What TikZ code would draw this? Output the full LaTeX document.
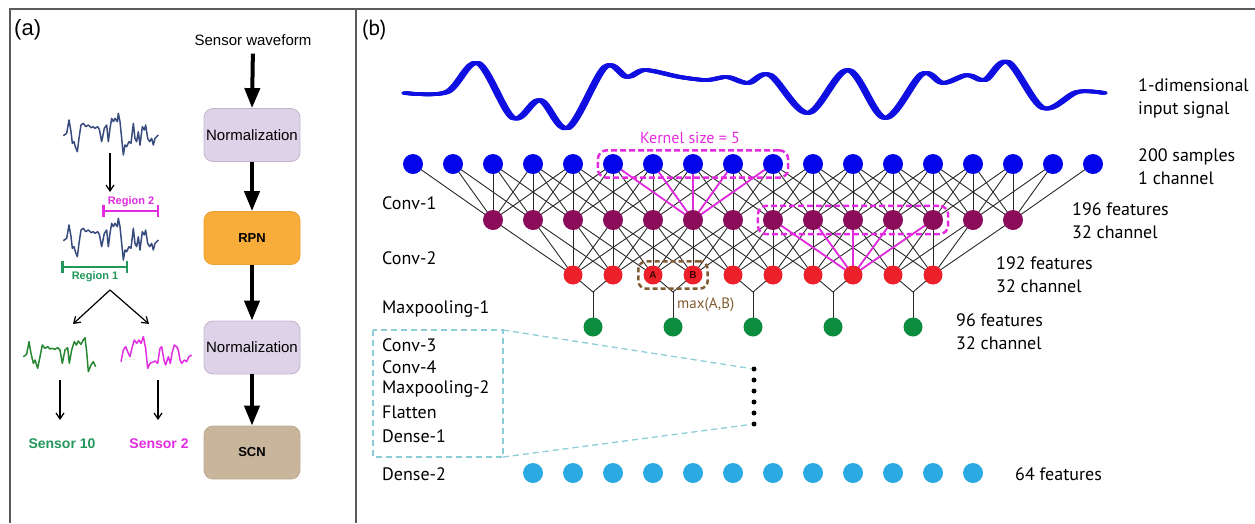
\documentclass[tikz,border=0pt]{standalone}
\usepackage{fontspec}
\setmainfont{Liberation Sans}
\newfontfamily\myr{PT Sans}
\usetikzlibrary{arrows.meta,fit}
\definecolor{framec}{RGB}{90,90,90}
\definecolor{wavea}{RGB}{55,75,125}
\definecolor{greena}{RGB}{40,135,50}
\definecolor{greent}{RGB}{35,150,90}
\definecolor{maga}{RGB}{225,45,225}
\definecolor{normfill}{RGB}{222,210,232}
\definecolor{normdraw}{RGB}{195,180,208}
\definecolor{rpnfill}{RGB}{248,172,58}
\definecolor{rpndraw}{RGB}{238,160,50}
\definecolor{scnfill}{RGB}{200,181,156}
\definecolor{scndraw}{RGB}{188,170,145}
\definecolor{nblue}{RGB}{5,5,235}
\definecolor{wblue}{RGB}{15,15,225}
\definecolor{npurple}{RGB}{140,12,92}
\definecolor{nred}{RGB}{235,32,42}
\definecolor{ngreen}{RGB}{12,140,62}
\definecolor{ndense}{RGB}{42,170,226}
\definecolor{kmag}{RGB}{228,42,222}
\definecolor{kbrown}{RGB}{128,92,50}
\definecolor{teal}{RGB}{140,205,215}
\definecolor{linegray}{RGB}{40,40,40}
\pgfdeclarelayer{bg}
\pgfsetlayers{bg,main}
\begin{document}
\begin{tikzpicture}[x=1pt,y=-1pt,
  fbox/.style={rounded corners=9pt, minimum width=96pt, minimum height=53pt, inner sep=0pt, line width=0.8pt},
  bigarrow/.style={line width=4pt, -{Triangle[length=20pt,width=15pt]}},
  smallarrow/.style={line width=1.2pt, -{Straight Barb[length=6pt,width=8pt]}},
  wavestyle/.style={line width=1.5pt, line join=round},
  conn/.style={draw=linegray, line width=0.9pt},
  kconn/.style={draw=kmag, line width=1.8pt},
  bn/.style={circle, fill=nblue, minimum size=20pt, inner sep=0pt},
  pn/.style={circle, fill=npurple, minimum size=20pt, inner sep=0pt},
  rn/.style={circle, fill=nred, minimum size=19pt, inner sep=0pt},
  gn/.style={circle, fill=ngreen, minimum size=19pt, inner sep=0pt},
  dn/.style={circle, fill=ndense, minimum size=20pt, inner sep=0pt},
  dotn/.style={circle, fill=black, minimum size=5pt, inner sep=0pt},
  lab/.style={font=\myr\fontsize{18}{23}\selectfont, anchor=west, inner sep=0pt, align=left},
  kbox/.style={draw=kmag, line width=2.5pt, dash pattern=on 6pt off 3pt, rounded corners=9pt},
]
\useasboundingbox (0,0) rectangle (1255,523);
% frame
\draw[framec, line width=1.5pt] (10,523) -- (10,9) -- (1255,9);
\draw[framec, line width=1.5pt] (356,9) -- (356,523);
\node[font=\fontsize{22}{26}\selectfont, anchor=west, inner sep=0pt] (pa) at (14,30) {(a)};
\node[font=\myr\fontsize{22}{26}\selectfont, anchor=west, inner sep=0pt] (pb) at (362,30) {(b)};

% ---------- panel (a) flowchart ----------
\node[font=\fontsize{15}{18}\selectfont, inner sep=0pt] (sw) at (253,40) {Sensor waveform};
\node[fbox, fill=normfill, draw=normdraw, font=\fontsize{15}{18}\selectfont] (n1) at (252,135) {Normalization};
\node[fbox, fill=rpnfill, draw=rpndraw, font=\bfseries\fontsize{13}{16}\selectfont] (rpn) at (252,238) {RPN};
\node[fbox, fill=normfill, draw=normdraw, font=\fontsize{15}{18}\selectfont] (n2) at (252,347.5) {Normalization};
\node[fbox, fill=scnfill, draw=scndraw, font=\bfseries\fontsize{13}{16}\selectfont] (scn) at (252,452.5) {SCN};
\draw[bigarrow, shorten <=8pt] (sw.south) -- (n1.north);
\draw[bigarrow] (n1.south) -- (rpn.north);
\draw[bigarrow] (rpn.south) -- (n2.north);
\draw[bigarrow] (n2.south) -- (scn.north);

% ---------- panel (a) waveforms ----------
\begin{scope}[shift={(55,105)}, x=0.33333pt, y=-0.33333pt]
\draw[wavestyle, wavea] plot coordinates {(25,92) (35,85) (42,45) (48,80) (52,115) (57,110) (62,128) (67,140) (72,100) (78,60) (85,55) (92,65) (100,60) (108,68) (115,65) (120,70) (128,65) (133,73) (140,110) (148,70) (155,60) (160,110) (165,70) (170,40) (175,50) (180,40) (187,50) (190,25) (195,50) (200,100) (205,150) (210,120) (215,125) (222,110) (228,115) (235,55) (240,100) (245,110) (250,80) (255,120) (262,65) (268,75) (272,60) (278,100) (284,110) (290,100) (295,120) (300,100) (310,90)};
\end{scope}
\begin{scope}[shift={(55,210)}, x=0.33333pt, y=-0.33333pt]
\draw[wavestyle, wavea] plot coordinates {(25,92) (35,85) (42,45) (48,80) (52,115) (57,110) (62,128) (67,140) (72,100) (78,60) (85,55) (92,65) (100,60) (108,68) (115,65) (120,70) (128,65) (133,73) (140,110) (148,70) (155,60) (160,110) (165,70) (170,40) (175,50) (180,40) (187,50) (190,25) (195,50) (200,100) (205,150) (210,120) (215,125) (222,110) (228,115) (235,55) (240,100) (245,110) (250,80) (255,120) (262,65) (268,75) (272,60) (278,100) (284,110) (290,100) (295,120) (300,100) (310,90)};
\end{scope}
\begin{scope}[shift={(15,325)}, x=0.33333pt, y=-0.33333pt]
\draw[wavestyle, greena] plot coordinates {(25,95) (35,88) (42,50) (48,85) (55,115) (60,105) (68,130) (75,95) (82,60) (90,70) (98,65) (105,72) (112,70) (120,73) (128,68) (135,75) (142,115) (150,75) (158,68) (163,115) (170,75) (178,50) (184,60) (190,48) (198,58) (205,45) (210,38) (215,80) (220,140) (228,120) (235,110) (242,125)};
\draw[wavestyle, maga] plot coordinates {(318,110) (325,75) (332,65) (338,80) (345,95) (352,65) (358,45) (365,55) (372,45) (378,55) (385,35) (392,70) (398,130) (405,115) (412,112) (420,108) (428,115) (435,70) (440,65) (447,105) (452,120) (460,95) (466,115) (472,80) (478,60) (485,65) (490,75) (495,105) (500,115) (508,105) (515,110) (522,95) (530,90)};
\end{scope}
\coordinate (w1b) at (110,153);
\coordinate (w2t) at (110,192);
\draw[smallarrow] (w1b) -- (w2t);
\coordinate (r2a) at (102,211);
\coordinate (r2b) at (159,211);
\draw[maga, line width=2.5pt, {Bar[width=12pt]}-{Bar[width=12pt]}] (r2a) -- (r2b);
\node[maga, font=\bfseries\fontsize{11}{13}\selectfont, inner sep=0pt] (reg2) at (131,202) {Region 2};
\coordinate (r1a) at (61,267);
\coordinate (r1b) at (128,267);
\draw[greent, line width=2.5pt, {Bar[width=12pt]}-{Bar[width=12pt]}] (r1a) -- (r1b);
\node[greent, font=\bfseries\fontsize{11}{13}\selectfont, inner sep=0pt] (reg1) at (95,277) {Region 1};
\coordinate (split) at (110,290);
\coordinate (gl) at (73,324);
\coordinate (ml) at (149,324);
\draw[smallarrow] (split) -- (gl);
\draw[smallarrow] (split) -- (ml);
\coordinate (ga) at (60,380);
\coordinate (gb) at (60,420);
\coordinate (ma) at (158,380);
\coordinate (mb) at (158,420);
\draw[smallarrow] (ga) -- (gb);
\draw[smallarrow] (ma) -- (mb);
\node[greent, font=\bfseries\fontsize{14}{16}\selectfont, inner sep=0pt] (s10) at (62,444) {Sensor 10};
\node[maga, font=\bfseries\fontsize{14}{16}\selectfont, inner sep=0pt] (s2) at (159,444) {Sensor 2};

% ---------- panel (b) waveform ----------
\foreach \s in {-2,-1,...,2}{
\draw[wblue, line width=3.5pt, line cap=round, line join=round, xshift={\s*1pt}] plot[smooth, tension=0.55] coordinates {(405,93) (447,92) (478,63) (513,118) (540,100) (568,128) (605,67) (627,77) (645,70) (680,77) (707,80) (727,77) (748,83) (770,75) (808,113) (848,70) (885,118) (922,74) (943,83) (967,75) (985,80) (1008,62) (1043,108) (1077,92) (1104,93)};
}

% ---------- panel (b) nodes ----------
\foreach \i in {0,...,17} \node[bn] (b\i) at (413+40*\i,164) {};
\foreach \i in {0,...,13} \node[pn] (p\i) at (493+40*\i,220) {};
\foreach \i in {0,...,9} \node[rn] (r\i) at (573+40*\i,275) {};
\foreach \i in {0,...,4} \node[gn] (g\i) at (593+80*\i,327) {};
\foreach \i in {0,...,11} \node[dn] (d\i) at (533+40*\i,473) {};
\foreach \i in {0,...,5} \node[dotn] (dd\i) at (754,369+11*\i) {};
\node[font=\fontsize{10}{12}\selectfont\bfseries, text=black!75!red, inner sep=0pt] (la) at (r2) {A};
\node[font=\fontsize{10}{12}\selectfont\bfseries, text=black!75!red, inner sep=0pt] (lb) at (r3) {B};

% connections
\begin{pgfonlayer}{bg}
\foreach \i in {0,...,13}{
  \foreach \k in {0,...,4}{
    \pgfmathtruncatemacro\j{\i+\k}
    \draw[conn] (p\i.center) -- (b\j.center);
  }
}
\foreach \i in {0,...,9}{
  \foreach \k in {0,...,4}{
    \pgfmathtruncatemacro\j{\i+\k}
    \draw[conn] (r\i.center) -- (p\j.center);
  }
}
\foreach \k in {0,...,4}{
  \pgfmathtruncatemacro\ra{2*\k}
  \pgfmathtruncatemacro\rb{2*\k+1}
  \coordinate (j\k) at (593+80*\k,292);
  \draw[conn] (r\ra.center) -- (j\k) -- (r\rb.center);
  \draw[conn] (j\k) -- (g\k.center);
}
\foreach \j in {5,...,9} \draw[kconn] (p5.center) -- (b\j.center);
\foreach \j in {7,...,11} \draw[kconn] (r7.center) -- (p\j.center);
\end{pgfonlayer}

% dashed boxes
\node[kbox, fit=(b5)(b9), inner xsep=5pt, inner ysep=3.5pt] (kb1) {};
\node[text=kmag, font=\myr\fontsize{16}{19}\selectfont, inner sep=0pt] (ks) at (690,138) {Kernel size = 5};
\node[kbox, fit=(p7)(p11), inner xsep=5pt, inner ysep=4pt] (kb2) {};
\node[draw=kbrown, line width=2.5pt, dash pattern=on 5pt off 3pt, rounded corners=8pt, fit=(r2)(r3), inner xsep=5pt, inner ysep=4pt] (abbox) {};
\node[text=kbrown, font=\myr\fontsize{15}{18}\selectfont, anchor=west, inner sep=0pt] (mx) at (677,305) {max(A,B)};

% teal dashed box
\draw[teal, line width=1.3pt, dash pattern=on 6pt off 4pt] (373,330) rectangle (503,457);
\coordinate (tbtr) at (503,330);
\coordinate (tbbr) at (503,457);
\draw[teal, line width=1.3pt, dash pattern=on 6pt off 4pt] (tbtr) -- (dd0);
\draw[teal, line width=1.3pt, dash pattern=on 6pt off 4pt] (tbbr) -- (dd5);

% labels
\node[lab] (lc1) at (382,203) {Conv-1};
\node[lab] (lc2) at (382,258) {Conv-2};
\node[lab] (lm1) at (382,309) {Maxpooling-1};
\node[lab] (lc3) at (382,345) {Conv-3};
\node[lab] (lc4) at (382,367) {Conv-4};
\node[lab] (lm2) at (382,389) {Maxpooling-2};
\node[lab] (lfl) at (382,412) {Flatten};
\node[lab] (ld1) at (382,436) {Dense-1};
\node[lab] (ld2) at (382,474) {Dense-2};
\node[lab] (t1) at (1138,98.5) {1-dimensional\\input signal};
\node[lab] (t2) at (1138,166.5) {200 samples\\1 channel};
\node[lab] (t3) at (1072,221) {196 features\\32 channel};
\node[lab] (t4) at (996,275) {192 features\\32 channel};
\node[lab] (t5) at (956,331.5) {96 features\\32 channel};
\node[lab] (t6) at (1015,474) {64 features};
\end{tikzpicture}
\end{document}
